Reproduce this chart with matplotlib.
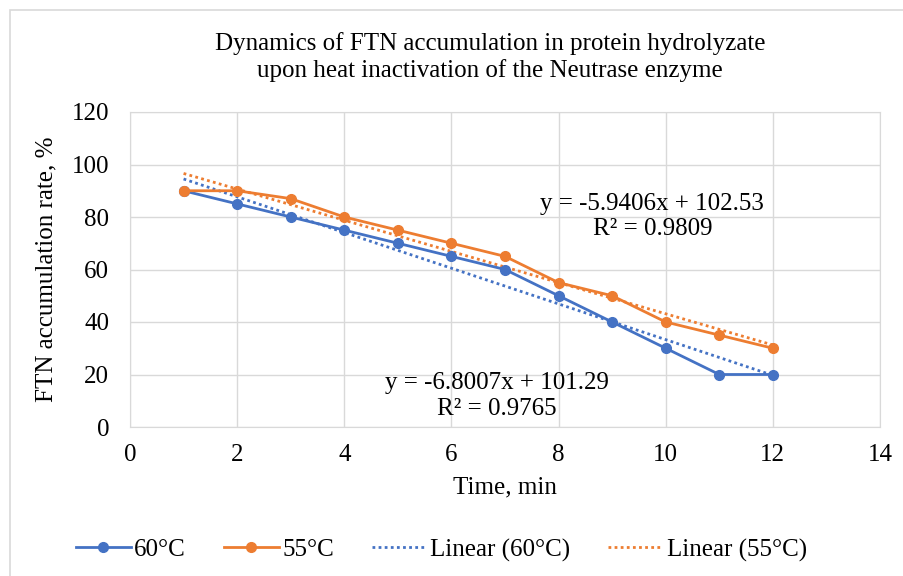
import numpy as np
import matplotlib
matplotlib.use("Agg")
import matplotlib.pyplot as plt
from matplotlib.patches import Rectangle

# data
time_min = [1, 2, 3, 4, 5, 6, 7, 8, 9, 10, 11, 12]
rate_60 = [90, 85, 80, 75, 70, 65, 60, 50, 40, 30, 20, 20]
rate_55 = [90, 90, 87, 80, 75, 70, 65, 55, 50, 40, 35, 30]

# trendline coefficients shown on the chart
slope_60, icpt_60, r2_60 = -6.8007, 101.29, 0.9765
slope_55, icpt_55, r2_55 = -5.9406, 102.53, 0.9809

x_ticks = [0, 2, 4, 6, 8, 10, 12, 14]
y_ticks = [0, 20, 40, 60, 80, 100, 120]

blue = "#4472C4"
orange = "#ED7D31"
fs = 18

plt.rcParams["font.family"] = ["Liberation Serif", "DejaVu Serif"]

fig = plt.figure(figsize=(9.04, 5.76), dpi=100)
ax = fig.add_axes([130 / 904, 1 - 427 / 576, 750 / 904, 315 / 576])

# outer chart border
fig.patches.append(Rectangle((10 / 904, -0.05), 1.0, 1 - 10 / 576 + 0.05,
                             transform=fig.transFigure, fill=False,
                             edgecolor="#d9d9d9", lw=1.2))

xs = np.array(time_min)
ax.plot(xs, rate_60, color=blue, lw=2, marker="o", ms=7, label="60°C", zorder=3)
ax.plot(xs, rate_55, color=orange, lw=2, marker="o", ms=7, label="55°C", zorder=3)
ax.plot(xs, slope_60 * xs + icpt_60, color=blue, lw=2, ls=(0, (1, 1.2)),
        label="Linear (60°C)", zorder=2)
ax.plot(xs, slope_55 * xs + icpt_55, color=orange, lw=2, ls=(0, (1, 1.2)),
        label="Linear (55°C)", zorder=2)

ax.set_xlim(0, 14)
ax.set_ylim(0, 120)
ax.set_xticks(x_ticks)
ax.set_yticks(y_ticks)
ax.grid(True, color="#d9d9d9", lw=1)
ax.set_axisbelow(True)
for s in ax.spines.values():
    s.set_color("#d9d9d9")
ax.tick_params(axis="x", length=0, labelsize=fs, pad=12)
ax.tick_params(axis="y", length=0, labelsize=fs, pad=15)

ax.text(9.75, 80.2, f"y = {slope_55}x + {icpt_55}\nR² = {r2_55}",
        ha="center", va="center", fontsize=fs, linespacing=1.2)
ax.text(6.85, 11.8, f"y = {slope_60}x + {icpt_60}\nR² = {r2_60}",
        ha="center", va="center", fontsize=fs, linespacing=1.2)

ax.set_xlabel("Time, min", fontsize=fs, labelpad=8)
ax.set_ylabel("FTN accumulation rate, %", fontsize=fs, labelpad=10)

fig.text(0.542, 1 - 57 / 576,
         "Dynamics of FTN accumulation in protein hydrolyzate\n"
         "upon heat inactivation of the Neutrase enzyme",
         ha="center", va="center", fontsize=fs, linespacing=1.25)

fig.legend(loc="center", bbox_to_anchor=(0.488, 1 - 550 / 576), ncol=4,
           frameon=False, fontsize=fs, handlelength=2.2, handletextpad=0.15,
           columnspacing=1.5)

fig.savefig("out.png", dpi=100)
